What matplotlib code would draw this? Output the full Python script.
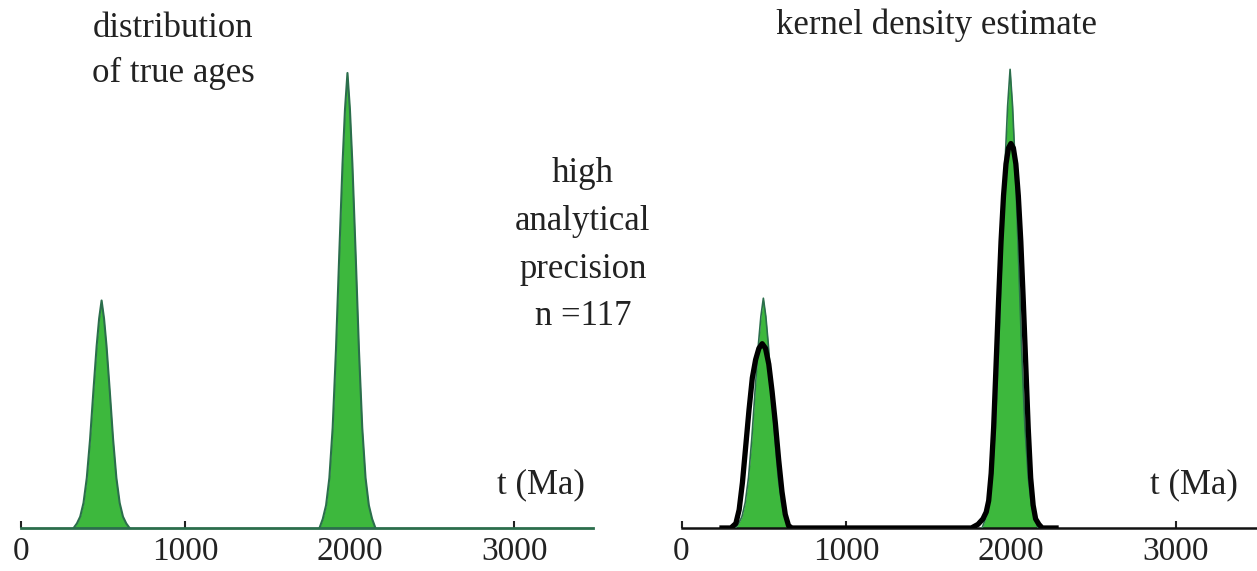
import matplotlib
matplotlib.use("Agg")
import matplotlib.pyplot as plt

plt.rcParams["font.family"] = ["Liberation Serif", "DejaVu Serif"]

# true age distribution (left panel)
true_small_t = [320, 340, 360, 380, 400, 420, 440, 460, 475, 490, 505, 520, 540, 560, 580, 600, 620, 640, 660]
true_small_y = [0, 0.01, 0.025, 0.055, 0.11, 0.195, 0.30, 0.40, 0.46, 0.50, 0.46, 0.40, 0.30, 0.195, 0.11, 0.055, 0.025, 0.01, 0]
true_big_t = [1815, 1835, 1855, 1875, 1895, 1915, 1935, 1955, 1970, 1985, 2000, 2015, 2035, 2055, 2075, 2095, 2115, 2135, 2155]
true_big_y = [0, 0.02, 0.05, 0.11, 0.22, 0.39, 0.60, 0.80, 0.92, 1.0, 0.92, 0.80, 0.60, 0.39, 0.22, 0.11, 0.05, 0.02, 0]

# same distribution as drawn in the right panel
green_small_t = [327, 347, 367, 387, 407, 427, 447, 467, 482, 497, 512, 527, 547, 567, 587, 607, 627, 647, 667]
green_small_y = [0, 0.01, 0.025, 0.056, 0.111, 0.197, 0.303, 0.404, 0.465, 0.505, 0.465, 0.404, 0.303, 0.197, 0.111, 0.056, 0.025, 0.01, 0]
green_big_t = [1825, 1845, 1865, 1885, 1905, 1925, 1945, 1965, 1980, 1995, 2010, 2025, 2045, 2065, 2085, 2105, 2125, 2145, 2165]
green_big_y = [0, 0.02, 0.05, 0.111, 0.222, 0.393, 0.605, 0.806, 0.927, 1.008, 0.927, 0.806, 0.605, 0.393, 0.222, 0.111, 0.05, 0.02, 0]

# kernel density estimate (black curve)
kde_t = [230, 300, 330, 350, 370, 390, 410, 430, 450, 470, 490, 510, 530, 550, 570, 590, 610, 630, 650, 670,
         1760, 1800, 1830, 1850, 1865, 1880, 1895, 1910, 1925, 1940, 1955, 1970, 1985, 2000, 2015, 2030,
         2045, 2060, 2075, 2090, 2105, 2120, 2135, 2150, 2170, 2190, 2290]
kde_y = [0, 0, 0.01, 0.04, 0.10, 0.18, 0.26, 0.33, 0.37, 0.395, 0.405, 0.395, 0.36, 0.30, 0.23, 0.15, 0.08, 0.03, 0.005, 0,
         0, 0.008, 0.02, 0.035, 0.06, 0.12, 0.22, 0.36, 0.50, 0.63, 0.73, 0.80, 0.835, 0.845, 0.835, 0.80,
         0.73, 0.63, 0.50, 0.36, 0.22, 0.11, 0.05, 0.02, 0.008, 0, 0]

ticks = [0, 1000, 2000, 3000]
fill_green = "#3db83d"
edge_green = "#2b6e4c"

W, H = 1257, 571
fig = plt.figure(figsize=(W / 100, H / 100), dpi=100)

base_px = 528
ymax = 1.1604


def make_axes(left_px, width_px, xmax, spine_color, spine_w):
    ax = fig.add_axes([left_px / W, (H - base_px) / H, width_px / W, base_px / H])
    ax.set_xlim(0, xmax)
    ax.set_ylim(0, ymax)
    for s in ["top", "left", "right"]:
        ax.spines[s].set_visible(False)
    ax.spines["bottom"].set_color(spine_color)
    ax.spines["bottom"].set_linewidth(spine_w)
    ax.set_yticks([])
    ax.set_xticks(ticks)
    ax.set_xticklabels([str(t) for t in ticks])
    ax.tick_params(axis="x", direction="in", length=5, width=1.5, color="#222222",
                   labelsize=24, labelcolor="#222222", pad=6)
    ax.patch.set_alpha(0)
    return ax


ax1 = make_axes(21, 572, 3478, edge_green, 2.0)
for t, y in [(true_small_t, true_small_y), (true_big_t, true_big_y)]:
    ax1.fill_between(t, y, color=fill_green, lw=0, zorder=2)
    ax1.plot(t, y, color=edge_green, lw=1.5, zorder=3)

ax2 = make_axes(681.5, 575.5, 3494, "#111111", 1.8)
for t, y in [(green_small_t, green_small_y), (green_big_t, green_big_y)]:
    ax2.fill_between(t, y, color=fill_green, lw=0, zorder=2)
    ax2.plot(t, y, color=edge_green, lw=1.2, zorder=3)
ax2.plot(kde_t, kde_y, color="black", lw=3.8, solid_capstyle="butt", zorder=4)


def px_text(x, y, s, ha="center"):
    fig.text(x / W, 1 - y / H, s, ha=ha, va="baseline", fontsize=25, color="#222222")


px_text(173, 37, "distribution")
px_text(173, 82, "of true ages")
px_text(936, 34, "kernel density estimate")
for yy, s in [(182, "high"), (230, "analytical"), (278, "precision"), (325, "n =117")]:
    px_text(583, yy, s)
px_text(585, 493, "t (Ma)", ha="right")
px_text(1238, 493, "t (Ma)", ha="right")

fig.savefig("out.png", dpi=100)
